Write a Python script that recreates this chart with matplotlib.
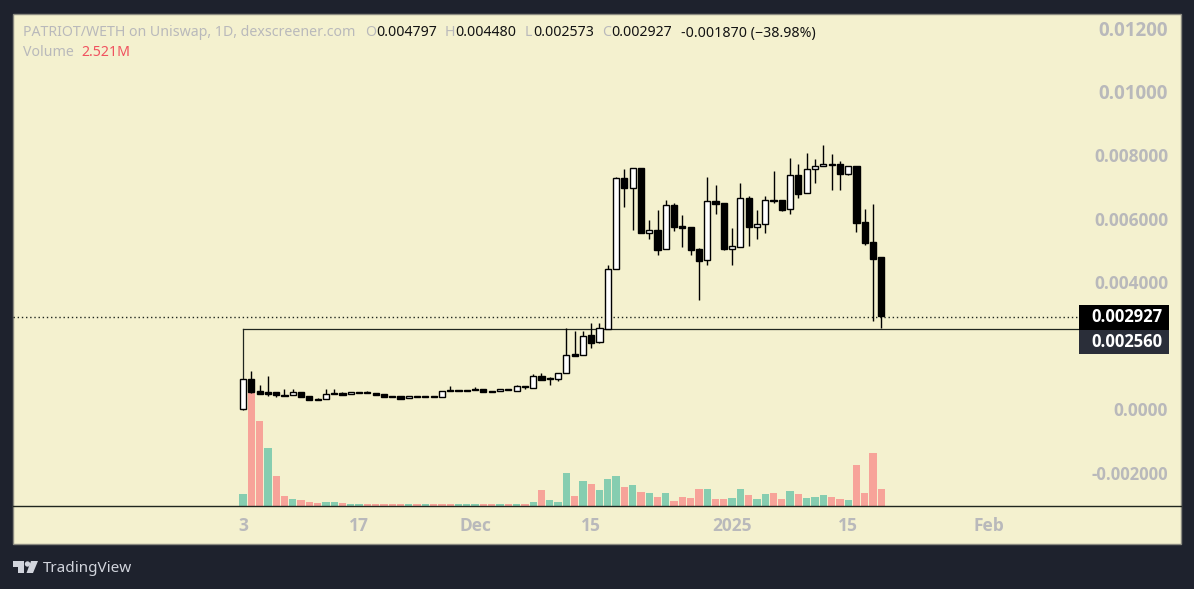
import numpy as np
from matplotlib import pyplot as plt
from matplotlib import patches

W, H = 1194, 589

# Prices in units of 0.001 WETH
opens = [0.0, .935, .567, .535, .535, .43, .43, .535, .41, .315, .305, .5, .5, .463, .525, .535, .5, .472, .4, .4,
         .335, .4, .4, .4, .368, .59, .59, .59, .63, .62, .56, .56, .63, .577, .715, .67, 1.04, .966, .945, 1.134,
         1.732, 1.691, 2.331, 2.101, 2.529, 4.4, 7.276, 6.97, 7.581, 5.553, 5.628, 5.03, 6.425, 5.764, 5.732, 5.039,
         4.683, 6.542, 6.488, 5.049, 5.112, 6.646, 5.742, 5.817, 6.583, 6.573, 6.29, 7.37, 6.794, 7.55, 7.644, 7.717,
         7.717, 7.411, 7.654, 5.89, 5.25, 4.797]
highs = [.935, 1.197, .756, 1.04, .535, .62, .63, .535, .41, .337, .62, .62, .545, .525, .525, .58, .5, .472, .4, .4,
         .4, .4, .4, .4, .577, .724, .59, .59, .693, .62, .56, .62, .63, .756, .724, 1.1, 1.134, 1.0, 1.124, 2.551,
         2.457, 2.457, 2.709, 2.709, 4.535, 7.298, 7.559, 7.581, 7.581, 5.953, 6.268, 6.573, 6.488, 6.11, 5.732, 5.071,
         7.298, 7.055, 6.488, 5.701, 7.118, 6.709, 6.268, 6.709, 7.487, 6.573, 7.906, 7.717, 8.054, 7.874, 8.315, 8.031,
         7.811, 7.644, 7.654, 6.299, 6.457, 4.797]
lows = [-.04, .51, .482, .41, .378, .42, .43, .387, .29, .29, .305, .48, .45, .463, .51, .51, .45, .387, .385, .324,
        .335, .385, .385, .385, .368, .57, .57, .57, .61, .545, .54, .56, .61, .577, .62, .67, .92, .765, .88, 1.134,
        1.679, 1.691, 1.931, 2.063, 2.529, 4.4, 6.372, 5.647, 5.553, 5.364, 4.86, 5.03, 5.616, 5.112, 4.86, 3.443,
        4.545, 6.151, 5.017, 4.535, 5.112, 5.134, 5.354, 5.543, 6.498, 6.236, 6.151, 6.655, 6.794, 7.128, 7.644, 6.898,
        6.898, 7.37, 5.584, 5.175, 2.781, 2.56]
closes = [.935, .545, .482, .482, .43, .42, .535, .387, .29, .29, .463, .48, .45, .525, .51, .51, .45, .387, .385, .324,
          .4, .385, .385, .385, .577, .57, .57, .57, .61, .545, .54, .62, .61, .715, .69, 1.03, .92, .935, 1.124, 1.71,
          1.679, 2.309, 2.088, 2.542, 4.4, 7.266, 6.97, 7.581, 5.553, 5.628, 5.017, 6.416, 5.742, 5.71, 5.017, 4.671,
          6.542, 6.466, 5.049, 5.124, 6.636, 5.742, 5.817, 6.573, 6.56, 6.268, 7.361, 6.781, 7.55, 7.644, 7.717, 7.694,
          7.411, 7.644, 5.868, 5.238, 4.734, 2.927]

# Volume in millions, g = rising bar, r = falling bar
volumes = [1.75, 17.5, 13.1, 8.9, 4.65, 1.55, .98, .82, .51, .36, .51, .51, .36, .31, .31, .31, .31, .31, .31, .16,
           .31, .31, .16, .31, .31, .31, .31, .16, .31, .16, .16, .31, .16, .31, .31, .62, 2.37, .82, .51, 5.07,
           1.44, 3.77, 3.3, 2.37, 4.08, 4.54, 2.84, 3.15, 2.06, 1.91, 1.29, 1.91, .67, 1.29, 1.13, 2.53, 2.53, .98, .98, 1.13,
           2.53, 1.6, .98, 1.75, 1.91, .98, 2.22, 1.75, 1.13, 1.29, 1.6, 1.29, .98, .82, 6.25, 1.91, 8.11, 2.521]
vol_dirs = "grrgrrgrrrggrggrrrrr" + "grgrrrgggrrgrgrgrggg" + "rgrgggrgrgrgrrrrgrrg" + "grggrrgrgggrrgrrrr"

price_ticks = [12, 10, 8, 6, 4, 0, -2]
price_labels = ["0.01200", "0.01000", "0.008000", "0.006000", "0.004000", "0.0000", "-0.002000"]
price_sizes = [13.5, 13.5, 12.5, 12.5, 12.5, 12.5, 12]
date_ticks = [0, 14, 28, 42, 59, 73, 90]
date_labels = ["3", "17", "Dec", "15", "2025", "15", "Feb"]

last_price = 2.89
level = 2.525

BG = "#1e222d"
PANE = "#f4f1cf"
GREY = "#b9b9bb"
INK = "#20261f"

plt.rcParams["font.family"] = "Noto Sans"


def px(x, y):
    return x / W, 1 - y / H


def fig_text(x, y, s, color=GREY, size=10.2, **kw):
    fx, fy = px(x, y)
    fig.text(fx, fy, s, color=color, fontsize=size, va="center", **kw)


def fig_rect(x0, y0, x1, y1, **kw):
    fx, fy = px(x0, y1)
    fig.patches.append(patches.Rectangle((fx, fy), (x1 - x0) / W, (y1 - y0) / H, transform=fig.transFigure, **kw))


fig = plt.figure(figsize=(W / 100, H / 100), dpi=100, facecolor=BG)
fig_rect(13, 14, 1181, 544, facecolor=PANE, edgecolor="#8a8a80", linewidth=1, zorder=0)

# Main price pane, pixels 13..1080 across and 14..505.5 down
ax = fig.add_axes([13 / W, (H - 505.5) / H, 1067 / W, 491.5 / H])
ax.patch.set_visible(False)
ax.set_zorder(2)
ax.set_xlim((13 - 243) / 8.29, (1080 - 243) / 8.29)
ax.set_ylim((409 - 505.5) / 31.75, (409 - 14) / 31.75)

vol = ax.twinx()
vol.set_zorder(1)
vol.set_ylim(0, 491.5 * 0.155)
vol.axis("off")

x = np.arange(len(opens))
colors = ["#86cdb0" if d == "g" else "#f7a399" for d in vol_dirs]
vol.bar(x, volumes, width=0.88, color=colors, linewidth=0)

o = np.array(opens)
c = np.array(closes)
up = c >= o
ax.vlines(x, lows, highs, color="black", linewidth=1.0, zorder=3)
ax.bar(x, np.abs(c - o), bottom=np.minimum(o, c), width=0.74,
       color=["white" if u else "black" for u in up], edgecolor="black", linewidth=1.0, zorder=4)

# Drawn level and last price line
ax.plot([0, 0], [highs[0], level], color=INK, linewidth=0.9, zorder=2)
ax.plot([0, ax.get_xlim()[1]], [level, level], color=INK, linewidth=0.9, zorder=2)
ax.axhline(last_price, color=INK, linewidth=1.0, linestyle=(0, (1, 2)), zorder=2)

for s in ax.spines.values():
    s.set_visible(False)
ax.yaxis.tick_right()
ax.set_yticks(price_ticks)
ax.set_yticklabels(price_labels, ha="right", color=GREY, fontweight="bold", family="Open Sans")
for lab, size in zip(ax.get_yticklabels(), price_sizes):
    lab.set_fontsize(size)
ax.set_xticks(date_ticks)
ax.set_xticklabels(date_labels, color=GREY, fontsize=12.5, fontweight="bold", family="Open Sans")
ax.tick_params(axis="y", length=0, pad=63.5)
ax.tick_params(axis="x", length=0, pad=8)

# Separator above the time scale
fig.add_artist(plt.Line2D([13 / W, 1181 / W], [px(0, 505.5)[1]] * 2, color=INK, linewidth=1.0))

# Legend row
fig_text(23, 33, "PATRIOT/WETH on Uniswap, 1D, dexscreener.com")
for lx, letter, vx, val in [(365, "O", 376, "0.004797"), (445, "H", 455, "0.004480"),
                            (525, "L", 533, "0.002573"), (602, "C", 611, "0.002927")]:
    fig_text(lx, 33, letter)
    fig_text(vx, 33, val, color="#131313")
fig_text(681, 33, "-0.001870 (\u221238.98%)", color="#131313")
fig_text(23, 53, "Volume")
fig_text(81, 53, "2.521M", color="#f0525f")

# Price labels on the scale
fig_rect(1079, 305, 1169, 329.5, facecolor="black", edgecolor="none", zorder=5)
fig_rect(1079, 329.5, 1169, 354, facecolor="#2a2e39", edgecolor="none", zorder=5)
fig_text(1163, 317.5, "0.002927", color="white", size=12, fontweight="bold", family="Open Sans", ha="right", zorder=6)
fig_text(1163, 342, "0.002560", color="white", size=12, fontweight="bold", family="Open Sans", ha="right", zorder=6)

# TradingView mark
logo = "#d1d4dc"
t_bar = [(13, 561), (24, 561), (24, 573), (18, 573), (18, 566.5), (13, 566.5)]
slash = [(31, 561), (38, 561), (33, 573), (26.5, 573)]
for pts in (t_bar, slash):
    fig.patches.append(patches.Polygon([px(*p) for p in pts], closed=True, transform=fig.transFigure,
                                       facecolor=logo, edgecolor="none"))
fig.patches.append(patches.Ellipse(px(27.5, 564), 5.4 / W, 5.4 / H, transform=fig.transFigure,
                                   facecolor=logo, edgecolor="none"))
fig_text(43, 568, "TradingView", color=logo, size=11)

fig.savefig("out.png", dpi=100, facecolor=BG)
